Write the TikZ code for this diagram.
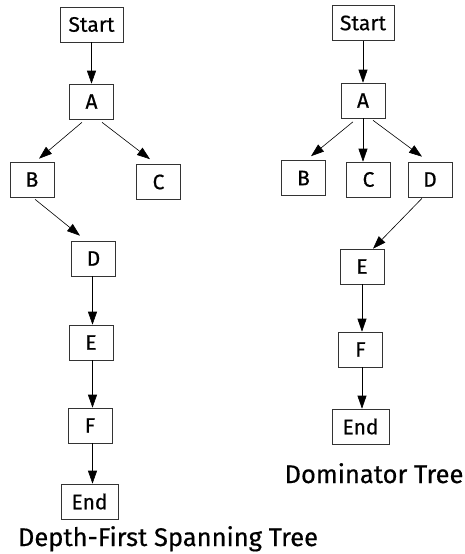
\documentclass[tikz,border=0pt]{standalone}
\usepackage{fontspec}
\setmainfont{Fira Sans}[FakeBold=0.5]
\usetikzlibrary{arrows.meta,calc}
\tikzset{
  box/.style={draw=black!80, line width=0.6pt, inner sep=0pt, minimum height=35pt, minimum width=44pt, font=\fontsize{21}{23}\selectfont},
  arr/.style={line width=0.6pt, -{Triangle[length=13pt,width=9pt]}},
  title/.style={anchor=base, inner sep=0pt, font=\fontsize{25.5}{27}\selectfont}
}
\begin{document}
\begin{tikzpicture}[x=1pt,y=-1pt]
\useasboundingbox (0,0) rectangle (465,554);
% left tree
\node[box, minimum width=63pt] (ls) at (91.5,24.5) {Start};
\node[box] (la) at (91.5,101.5) {A};
\node[box] (lb) at (32,179.5) {B};
\node[box] (lc) at (158.5,182) {C};
\node[box] (ld) at (93.5,258.5) {D};
\node[box] (le) at (91,342.5) {E};
\node[box] (lf) at (90,425.5) {F};
\node[box, minimum width=57pt] (lend) at (89.5,501.5) {End};
\node[title] (lt) at (168,546) {Depth-First Spanning Tree};
\coordinate (lx) at (92.5,0);
\draw[arr] (ls.south) -- (la.north);
\draw[arr] ($(la.south)+(-9.5,3)$) -- ($(lb.north)+(7,-3)$);
\draw[arr] ($(la.south)+(10.5,3)$) -- ($(lc.north)+(-8.5,-5)$);
\draw[arr] ($(lb.south)+(3,2)$) -- ($(ld.north)+(-13.5,-5)$);
\draw[arr] (lx |- ld.south) -- (lx |- le.north);
\draw[arr] (lx |- le.south) -- (lx |- lf.north);
\draw[arr] (lx |- lf.south) -- (lx |- lend.north);
% right tree
\node[box, minimum width=62pt] (rs) at (363,23) {Start};
\node[box] (ra) at (363,100.5) {A};
\node[box] (rb) at (303.5,178) {B};
\node[box] (rc) at (368.5,179.5) {C};
\node[box] (rd) at (430,179.5) {D};
\node[box] (re) at (362,266.5) {E};
\node[box] (rf) at (360.5,349.5) {F};
\node[box, minimum width=57pt] (rend) at (360.5,426.5) {End};
\node[title] (rt) at (374,483) {Dominator Tree};
\draw[arr] (rs.south) -- (ra.north);
\draw[arr] ($(ra.south)+(-10,3.5)$) -- ($(rb.north)+(7.5,-4)$);
\draw[arr] (ra.south) -- (ra.south |- rc.north);
\draw[arr] ($(ra.south)+(10,2)$) -- ($(rd.north)+(-8,-5)$);
\draw[arr] ($(rd.south)+(-8,1)$) -- ($(re.north)+(11,0)$);
\draw[arr] (re.south) -- (re.south |- rf.north);
\draw[arr] (re.south |- rf.south) -- (re.south |- rend.north);
\end{tikzpicture}
\end{document}
